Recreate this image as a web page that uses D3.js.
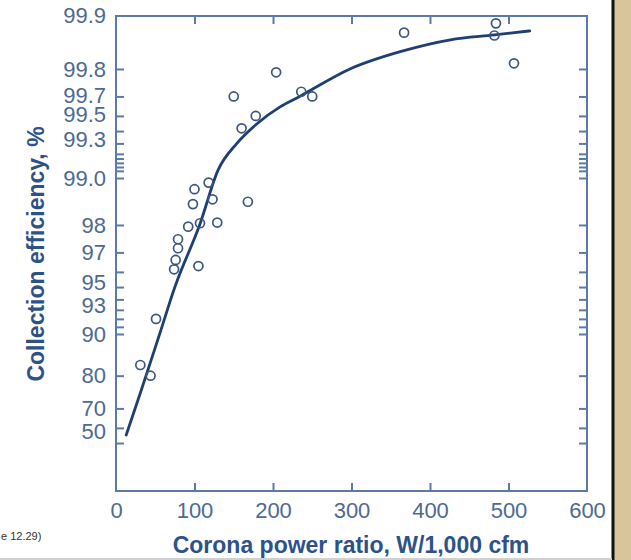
<html>
<script src='https://d3js.org/d3.v7.min.js'></script>

<style>
body { margin: 0; background: #fff; }
svg { display: block; font-family: 'Liberation Sans', Arial, sans-serif; }
.ticks path.domain { display: none; }
.ticks line { stroke: #5b7ba6; stroke-width: 2; }
.labels path.domain { display: none; }
.labels text { fill: #4c6a93; font-size: 22px; }
</style>

<body>
<svg width="631" height="560"></svg>

<script>
// measured points: corona power ratio (W/1,000 cfm) vs collection efficiency (%)
var powerRatio = [204, 150, 236, 250, 160, 178, 118, 100, 123, 98, 168, 92, 107, 129,
                  79, 79, 76, 74, 105, 484, 482, 507, 367, 31, 44, 51];
var efficiency = [99.79, 99.70, 99.72, 99.70, 99.52, 99.60, 98.93, 98.82, 98.63, 98.53, 98.58, 97.95, 98.05, 98.07,
                  97.53, 97.18, 96.65, 96.15, 96.33, 99.898, 99.878, 99.816, 99.883, 84.2, 81.5, 92.0];

// fitted curve
var curveX   = [13, 31, 56, 75, 107, 130, 154, 180, 209, 234, 298, 362, 426, 482, 527];
var curveEff = [55.6, 76.1, 90.15, 95.0, 98.03, 99.11, 99.40, 99.553, 99.65, 99.70,
                99.80, 99.845, 99.87, 99.879, 99.886];

// axis ticks
var xTicks = [100, 200, 300, 400, 500];
var xLabels = [0, 100, 200, 300, 400, 500, 600];
var yTicks = [99.8, 99.7, 99.6, 99.5, 99.4, 99.3, 99.25, 99.2, 99.15, 99.1, 99.0,
              98, 97, 96, 95, 94, 93, 92, 91, 90, 81.5, 70, 60, 50];
// label text and where the original figure prints it
var yLabelText = ['99.9', '99.8', '99.7', '99.5', '99.3', '99.0', '98', '97', '95', '93', '90', '80', '70', '50'];
var yLabelAt   = [99.909, 99.8, 99.705, 99.61, 99.43, 99.0, 98, 97, 95.3, 93.4, 90, 81.5, 70, 58];

const svg = d3.select('svg');
const axisColor = '#5b7ba6';

// x: linear, y: log of penetration (100 - efficiency)
const x = d3.scaleLinear().domain([0, 600]).range([116, 587]);
const yPen = d3.scaleLog().domain([0.0915, 101.5]).range([16, 491]);
function y(e) { return yPen(100 - e); }

const plotTop = yPen.range()[0], plotBottom = yPen.range()[1];
const plotLeft = x.range()[0], plotRight = x.range()[1];

// right edge of the slide: black rule and beige strip
svg.append('rect').attr('x', 614).attr('y', 0).attr('width', 17).attr('height', 560).attr('fill', '#d8c59c');
svg.append('line').attr('x1', 613).attr('x2', 613).attr('y1', 0).attr('y2', 560)
    .attr('stroke', '#111').attr('stroke-width', 3);
svg.append('line').attr('x1', 0).attr('x2', 612).attr('y1', 559).attr('y2', 559)
    .attr('stroke', '#d0d0d0').attr('stroke-width', 2);

// frame
svg.append('rect')
    .attr('x', plotLeft).attr('y', plotTop)
    .attr('width', plotRight - plotLeft).attr('height', plotBottom - plotTop)
    .attr('fill', 'none').attr('stroke', axisColor).attr('stroke-width', 2);

// inward ticks on all four sides
svg.append('g').attr('class', 'ticks').attr('transform', `translate(0, ${plotBottom})`)
    .call(d3.axisTop(x).tickValues(xTicks).tickSize(8).tickFormat(''));
svg.append('g').attr('class', 'ticks').attr('transform', `translate(0, ${plotTop})`)
    .call(d3.axisBottom(x).tickValues(xTicks).tickSize(8).tickFormat(''));
svg.append('g').attr('class', 'ticks').attr('transform', `translate(${plotLeft}, 0)`)
    .call(d3.axisRight(yPen).tickValues(yTicks.map(e => 100 - e)).tickSize(8).tickFormat(''));
svg.append('g').attr('class', 'ticks').attr('transform', `translate(${plotRight}, 0)`)
    .call(d3.axisLeft(yPen).tickValues(yTicks.map(e => 100 - e)).tickSize(8).tickFormat(''));

// tick labels
svg.append('g').attr('class', 'labels').attr('transform', `translate(0, ${plotBottom})`)
    .call(d3.axisBottom(x).tickValues(xLabels).tickSize(0).tickPadding(11));
svg.append('g').attr('class', 'labels').attr('transform', `translate(${plotLeft}, 0)`)
    .call(d3.axisLeft(yPen).tickValues(yLabelAt.map(e => 100 - e)).tickSize(0).tickPadding(10)
        .tickFormat((d, i) => yLabelText[i]));
svg.selectAll('.labels').attr('font-family', null).attr('font-size', null);

// fitted curve
var line = d3.line()
    .x(function(d) { return x(d[0]); })
    .y(function(d) { return y(d[1]); })
    .curve(d3.curveMonotoneX);

svg.append('path')
    .datum(curveX.map((v, i) => [v, curveEff[i]]))
    .attr('d', line)
    .attr('fill', 'none')
    .attr('stroke', '#1d3f72')
    .attr('stroke-width', 2.8)
    .attr('stroke-linecap', 'round');

// data points
svg.selectAll('circle.pt')
    .data(powerRatio.map((v, i) => [v, efficiency[i]]))
    .enter()
    .append('circle')
    .attr('class', 'pt')
    .attr('cx', function(d) { return x(d[0]); })
    .attr('cy', function(d) { return y(d[1]); })
    .attr('r', 4.5)
    .attr('fill', 'none')
    .attr('stroke', '#3c5680')
    .attr('stroke-width', 1.7);

// axis titles
svg.append('text')
    .attr('x', 351).attr('y', 553)
    .attr('text-anchor', 'middle')
    .attr('font-size', 23).attr('font-weight', 'bold')
    .attr('fill', '#2d5288')
    .text('Corona power ratio, W/1,000 cfm');

svg.append('text')
    .attr('transform', 'rotate(-90)')
    .attr('x', -254).attr('y', 44)
    .attr('text-anchor', 'middle')
    .attr('font-size', 23).attr('font-weight', 'bold')
    .attr('fill', '#2d5288')
    .text('Collection efficiency, %');

// figure reference cut off at the left edge
svg.append('text')
    .attr('x', 1).attr('y', 540)
    .attr('font-size', 11)
    .attr('fill', '#333')
    .text('e 12.29)');
</script>
</body>
</html>
